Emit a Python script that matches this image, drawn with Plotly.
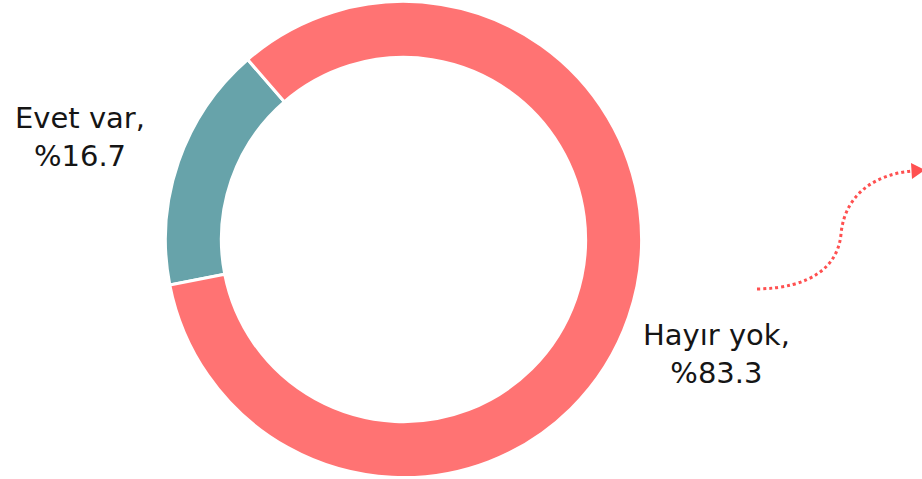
import plotly.graph_objects as go

labels = ["Evet var", "Hayır yok"]
values = [16.7, 83.3]
colors = ["#67A3AA", "#FF7373"]

W, H = 922, 479
cx = 403.5
R = 240

fig = go.Figure()
fig.add_trace(go.Pie(
    labels=labels,
    values=values,
    hole=0.765,
    sort=False,
    direction="clockwise",
    rotation=259,
    marker=dict(colors=colors, line=dict(color="white", width=3)),
    textinfo="none",
    showlegend=False,
    hoverinfo="label+value",
    domain=dict(x=[(cx - R) / W, (cx + R) / W], y=[0.003, 0.997]),
))

# labels as annotations built from the data arrays
label_pos = [(79.5, 137), (716, 354)]
for lab, val, (px, py) in zip(labels, values, label_pos):
    fig.add_annotation(
        x=px, y=py, xref="x", yref="y",
        text=f"{lab},<br>%{val}",
        showarrow=False, xanchor="center", yanchor="middle",
        font=dict(family="DejaVu Sans", size=29, color="#151515"),
    )

# decorative dotted arrow (hidden pixel-space axes)
fig.update_layout(
    xaxis=dict(range=[0, W], visible=False, domain=[0, 1], fixedrange=True),
    yaxis=dict(range=[H, 0], visible=False, domain=[0, 1], fixedrange=True),
)
fig.add_shape(type="path", xref="x", yref="y",
              path="M 757 289 C 812 288, 838 266, 841 234 C 845 192, 878 174, 912 171",
              line=dict(color="#FF5050", width=3, dash="dot"))
fig.add_shape(type="path", xref="x", yref="y",
              path="M 911 163 L 925 170 L 912 179 Z",
              fillcolor="#FF5050", line=dict(width=0))

fig.update_layout(
    width=W, height=H,
    margin=dict(l=0, r=0, t=0, b=0),
    paper_bgcolor="white",
    plot_bgcolor="rgba(0,0,0,0)",
    font=dict(family="DejaVu Sans"),
)

fig.write_html("out.html",
               config={"displayModeBar": False},
               post_script="document.body.style.margin='0';document.body.style.overflow='hidden';")
